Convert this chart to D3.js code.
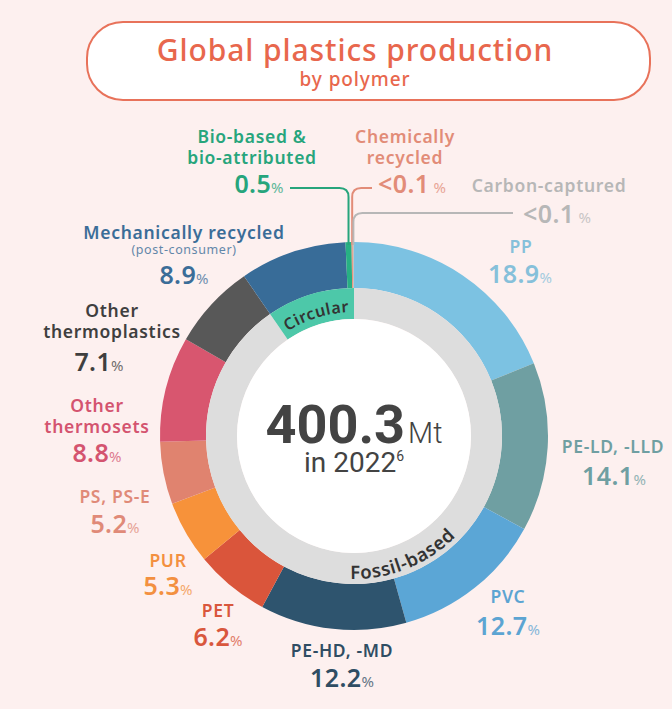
<!DOCTYPE html>
<html>
<head>
<meta charset="utf-8">
<script src="https://cdn.jsdelivr.net/npm/d3@7"></script>
<style>
    body { margin: 0; background: #fdf0ef; }
    svg { display: block; }
    text { font-family: "Noto Sans", sans-serif; }
</style>
</head>
<body>
<div id="wrapper"></div>
<script>
const polymers = ['PP', 'PE-LD, -LLD', 'PVC', 'PE-HD, -MD', 'PET', 'PUR', 'PS, PS-E',
    'Other thermosets', 'Other thermoplastics', 'Mechanically recycled',
    'Bio-based & bio-attributed', 'Chemically recycled', 'Carbon-captured']
const shares = [18.9, 14.1, 12.7, 12.2, 6.2, 5.3, 5.2, 8.8, 7.1, 8.9, 0.5, 0.1, 0.1]
const shareText = ['18.9', '14.1', '12.7', '12.2', '6.2', '5.3', '5.2', '8.8', '7.1', '8.9', '0.5', '<0.1', '<0.1']
const groups = ['Fossil-based', 'Fossil-based', 'Fossil-based', 'Fossil-based', 'Fossil-based',
    'Fossil-based', 'Fossil-based', 'Fossil-based', 'Fossil-based', 'Circular',
    'Circular', 'Circular', 'Circular']
const nameLines = [['PP'], ['PE-LD, -LLD'], ['PVC'], ['PE-HD, -MD'], ['PET'], ['PUR'], ['PS, PS-E'],
    ['Other', 'thermosets'], ['Other', 'thermoplastics'], ['Mechanically recycled'],
    ['Bio-based &', 'bio-attributed'], ['Chemically', 'recycled'], ['Carbon-captured']]
const totalValue = '400.3'
const totalYear = '2022'

async function drawChart() {
    const dataset = polymers.map((name, i) => ({
        name, share: shares[i], label: shareText[i], group: groups[i], lines: nameLines[i]
    }))

    let dimensions = {
        width: 672,
        height: 709,
        cx: 354,
        cy: 436,
        outer: 194,
        ring: 148,
        hole: 117
    }

    const sliceColors = ['#7cc2e2', '#6f9fa2', '#5ba6d6', '#2e546e', '#da553b', '#f7923a', '#e0836f',
        '#d8566f', '#585858', '#386c98', '#27b083', '#e9917c', '#c4c4c4']
    const labelColors = ['#86c0da', '#6f9fa2', '#5ca4d2', '#2f4d63', '#d9573d', '#f39040', '#e08a78',
        '#d4546f', '#3f3f3f', '#3b6d98', '#27a57c', '#e28c78', '#b7b7b7']
    const colorScale = d3.scaleOrdinal(polymers, sliceColors)
    const labelColorScale = d3.scaleOrdinal(polymers, labelColors)
    const groupColor = d3.scaleOrdinal(['Fossil-based', 'Circular'], ['#dddddd', '#4dc8a9'])

    // label anchors: x centre, first line baseline, value x, value baseline
    const labelLayout = {
        'PP': {x: 521, y: 253, vx: 520, vy: 283},
        'PE-LD, -LLD': {x: 613, y: 453, vx: 614, vy: 485},
        'PVC': {x: 508, y: 603, vx: 508, vy: 635},
        'PE-HD, -MD': {x: 342, y: 657, vx: 342, vy: 687},
        'PET': {x: 218, y: 617, vx: 218, vy: 646},
        'PUR': {x: 168, y: 567, vx: 168, vy: 595},
        'PS, PS-E': {x: 115, y: 503, vx: 115, vy: 533},
        'Other thermosets': {x: 97, y: 412, vx: 97, vy: 462},
        'Other thermoplastics': {x: 112, y: 317, vx: 99, vy: 371},
        'Mechanically recycled': {x: 184, y: 239, vx: 184, vy: 284},
        'Bio-based & bio-attributed': {x: 252, y: 143, vx: 259, vy: 193},
        'Chemically recycled': {x: 405, y: 143, vx: 412, vy: 193},
        'Carbon-captured': {x: 549, y: 192, vx: 557, vy: 223}
    }
    const leaderLayout = {
        'Bio-based & bio-attributed': {x: 290, y: 188},
        'Chemically recycled': {x: 372, y: 188},
        'Carbon-captured': {x: 513, y: 213}
    }

    const wrapper = d3.select('#wrapper')
        .append('svg')
        .attr('width', dimensions.width)
        .attr('height', dimensions.height)

    wrapper.append('rect')
        .attr('width', dimensions.width)
        .attr('height', dimensions.height)
        .attr('fill', '#fdf0ef')

    // title box
    const titleGroup = wrapper.append('g')
    titleGroup.append('rect')
        .attr('x', 87)
        .attr('y', 22)
        .attr('width', 563)
        .attr('height', 78)
        .attr('rx', 36)
        .attr('fill', '#ffffff')
        .attr('stroke', '#e8725a')
        .attr('stroke-width', 2)
    titleGroup.append('text')
        .attr('x', 355)
        .attr('y', 61)
        .attr('text-anchor', 'middle')
        .attr('fill', '#e8674d')
        .style('font-size', '30px')
        .style('font-weight', 500)
        .style('letter-spacing', '0.9px')
        .text('Global plastics production')
    titleGroup.append('text')
        .attr('x', 355)
        .attr('y', 86)
        .attr('text-anchor', 'middle')
        .attr('fill', '#e8674d')
        .style('font-size', '19px')
        .style('font-weight', 500)
        .style('letter-spacing', '0.9px')
        .text('by polymer')

    const bounds = wrapper.append('g')
        .attr('transform', `translate(${dimensions.cx}, ${dimensions.cy})`)

    const pie = d3.pie().sort(null).value(d => d.share)
    const slices = pie(dataset)

    const groupData = Array.from(d3.rollup(dataset, v => d3.sum(v, d => d.share), d => d.group),
        ([group, share]) => ({group, share}))
    const groupSlices = pie(groupData)

    const outerArc = d3.arc().innerRadius(dimensions.ring).outerRadius(dimensions.outer)
    const innerArc = d3.arc().innerRadius(dimensions.hole).outerRadius(dimensions.ring)

    bounds.selectAll('.slice')
        .data(slices)
        .join('path')
        .attr('class', 'slice')
        .attr('d', outerArc)
        .attr('fill', d => colorScale(d.data.name))

    bounds.selectAll('.group')
        .data(groupSlices)
        .join('path')
        .attr('class', 'group')
        .attr('d', innerArc)
        .attr('fill', d => groupColor(d.data.group))

    bounds.append('circle')
        .attr('r', dimensions.hole)
        .attr('fill', '#ffffff')

    // curved group labels
    const point = (a, r) => [r * Math.sin(a), -r * Math.cos(a)]
    const arcPath = (a0, a1, r) => {
        const [x0, y0] = point(a0, r)
        const [x1, y1] = point(a1, r)
        const sweep = a1 > a0 ? 1 : 0
        return `M${x0},${y0} A${r},${r} 0 0 ${sweep} ${x1},${y1}`
    }
    const defs = wrapper.append('defs')
    const circularSlice = groupSlices.find(d => d.data.group === 'Circular')
    const circMid = (circularSlice.startAngle + circularSlice.endAngle) / 2
    defs.append('path')
        .attr('id', 'circular-path')
        .attr('d', arcPath(circMid - 0.8, circMid + 0.8, 124))
    const fossilMid = 158 * Math.PI / 180
    defs.append('path')
        .attr('id', 'fossil-path')
        .attr('d', arcPath(fossilMid + 0.9, fossilMid - 0.9, 143))

    const ringLabels = [['circular-path', 'Circular', 16], ['fossil-path', 'Fossil-based', 18.5]]
    ringLabels.forEach(([id, label, size]) => {
        bounds.append('text')
            .attr('fill', '#333333')
            .style('font-size', `${size}px`)
            .style('font-weight', 600)
            .style('letter-spacing', '0.6px')
            .append('textPath')
            .attr('href', `#${id}`)
            .attr('startOffset', '50%')
            .attr('text-anchor', 'middle')
            .text(label)
    })

    // centre total
    const centre = bounds.append('g')
    const totalText = centre.append('text')
        .attr('y', 7)
        .attr('text-anchor', 'middle')
        .attr('fill', '#434343')
        .style('font-family', 'Roboto, sans-serif')
    totalText.append('tspan')
        .style('font-size', '54px')
        .style('font-weight', 700)
        .text(totalValue)
    totalText.append('tspan')
        .attr('dx', 3)
        .style('font-size', '29px')
        .style('font-weight', 300)
        .text('Mt')
    const yearText = centre.append('text')
        .attr('y', 36)
        .attr('text-anchor', 'middle')
        .attr('fill', '#434343')
        .style('font-family', 'Roboto, sans-serif')
        .style('font-size', '28px')
    yearText.append('tspan').text(`in ${totalYear}`)
    yearText.append('tspan')
        .attr('dy', -11)
        .style('font-size', '14px')
        .text('6')

    // leader lines for thin slices
    const cornerR = 9
    slices.filter(d => leaderLayout[d.data.name]).forEach(d => {
        const start = leaderLayout[d.data.name]
        const mid = (d.startAngle + d.endAngle) / 2
        const [vx, vy] = point(mid, dimensions.outer)
        const xV = vx + dimensions.cx
        const yEnd = vy + dimensions.cy + 3
        const dir = start.x < xV ? -1 : 1
        const path = `M${start.x},${start.y} L${xV + dir * cornerR},${start.y} ` +
            `Q${xV},${start.y} ${xV},${start.y + cornerR} L${xV},${yEnd}`
        wrapper.append('path')
            .attr('d', path)
            .attr('fill', 'none')
            .attr('stroke', labelColorScale(d.data.name))
            .attr('stroke-width', 2)
    })

    // outside labels
    const labelGroups = wrapper.selectAll('.label')
        .data(dataset)
        .join('g')
        .attr('class', 'label')
        .attr('fill', d => labelColorScale(d.name))

    labelGroups.each(function(d) {
        const g = d3.select(this)
        const pos = labelLayout[d.name]
        d.lines.forEach((line, i) => {
            g.append('text')
                .attr('x', pos.x)
                .attr('y', pos.y + i * 21)
                .attr('text-anchor', 'middle')
                .style('font-size', '17.5px')
                .style('font-weight', 600)
                .style('letter-spacing', '0.7px')
                .text(line)
        })
        if (d.name === 'Mechanically recycled') {
            g.append('text')
                .attr('x', pos.x)
                .attr('y', pos.y + 15)
                .attr('text-anchor', 'middle')
                .style('font-size', '12.5px')
                .style('letter-spacing', '0.6px')
                .style('opacity', 0.8)
                .text('(post-consumer)')
        }
        const value = g.append('text')
            .attr('x', pos.vx)
            .attr('y', pos.vy)
            .attr('text-anchor', 'middle')
        value.append('tspan')
            .style('font-size', '25px')
            .style('font-weight', 600)
            .style('letter-spacing', '0.4px')
            .text(d.label)
        value.append('tspan')
            .style('font-size', '15px')
            .style('opacity', 0.75)
            .text(d.label.startsWith('<') ? ' %' : '%')
    })
}

drawChart()
</script>
</body>
</html>
